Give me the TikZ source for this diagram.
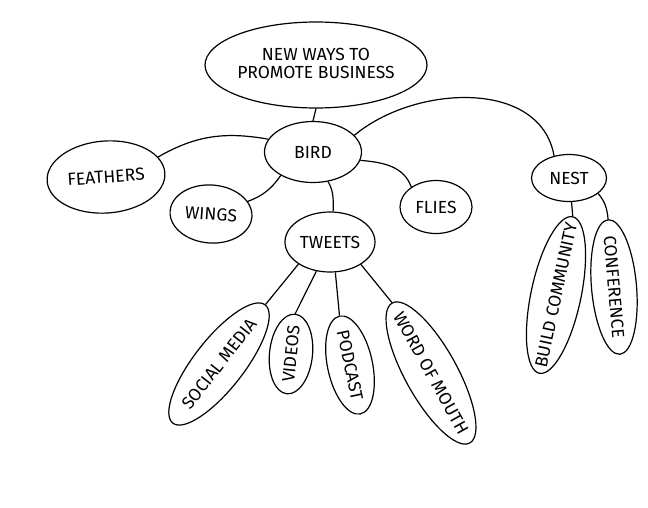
\documentclass[tikz,border=0pt]{standalone}
\usepackage{fontspec}
\setmainfont{Fira Sans}
\usetikzlibrary{shapes.geometric}
\newcommand{\lbl}[1]{\makebox[0pt]{#1}}
\begin{document}
\begin{tikzpicture}[x=1pt,y=1pt,
  bubble/.style={draw, ellipse, line width=1.2pt, inner sep=0pt, font=\fontsize{17.5}{20}\selectfont},
  link/.style={line width=1.2pt}]
\useasboundingbox (0,0) rectangle (648,-507);

\node[bubble, minimum width=222, minimum height=86] (goal) at (316,-65) {\lbl{\begin{tabular}{@{}c@{}}NEW WAYS TO\\[-2pt]PROMOTE BUSINESS\end{tabular}}};
\node[bubble, minimum width=97, minimum height=61] (bird) at (313,-152) {\lbl{BIRD}};
\node[bubble, minimum width=118, minimum height=72, rotate=4] (feath) at (106,-177) {\lbl{FEATHERS}};
\node[bubble, minimum width=82, minimum height=58, rotate=-4] (wings) at (211,-214) {\lbl{WINGS}};
\node[bubble, minimum width=90, minimum height=60] (tweets) at (330,-242) {\lbl{TWEETS}};
\node[bubble, minimum width=72, minimum height=53] (flies) at (436,-207) {\lbl{FLIES}};
\node[bubble, minimum width=75, minimum height=47] (nest) at (569,-178) {\lbl{NEST}};

\node[bubble, minimum width=150, minimum height=50, rotate=52] (social) at (219,-364) {\lbl{SOCIAL MEDIA}};
\node[bubble, minimum width=80, minimum height=43, rotate=84] (videos) at (291,-354) {\lbl{VIDEOS}};
\node[bubble, minimum width=100, minimum height=45, rotate=-78] (podcast) at (350,-365) {\lbl{PODCAST}};
\node[bubble, minimum width=160, minimum height=52, rotate=-61] (mouth) at (431,-373) {\lbl{WORD OF MOUTH}};
\node[bubble, minimum width=160, minimum height=50, rotate=78] (build) at (556,-295) {\lbl{BUILD COMMUNITY}};
\node[bubble, minimum width=135, minimum height=45, rotate=-85] (conf) at (614,-287) {\lbl{CONFERENCE}};

\draw[link] (goal.south) -- (bird.north);
\draw[link] (bird.164) to[out=170,in=30] (feath.17);
\draw[link] (bird.216) to[out=235,in=20] (wings.23);
\draw[link] (bird.297) to[out=-60,in=90] (tweets.84);
\draw[link] (bird.-10) to[out=-5,in=110] (flies.141);
\draw[link] (bird.22) to[out=40,in=100] (nest.124);

\draw[link] (nest.-84) -- (build.east);
\draw[link] (nest.-28) to[out=-50,in=95] (conf.west);

\draw[link] (tweets.215) -- (social.east);
\draw[link] (tweets.245) -- (videos.east);
\draw[link] (tweets.280) -- (podcast.west);
\draw[link] (tweets.324) -- (mouth.west);
\end{tikzpicture}
\end{document}
